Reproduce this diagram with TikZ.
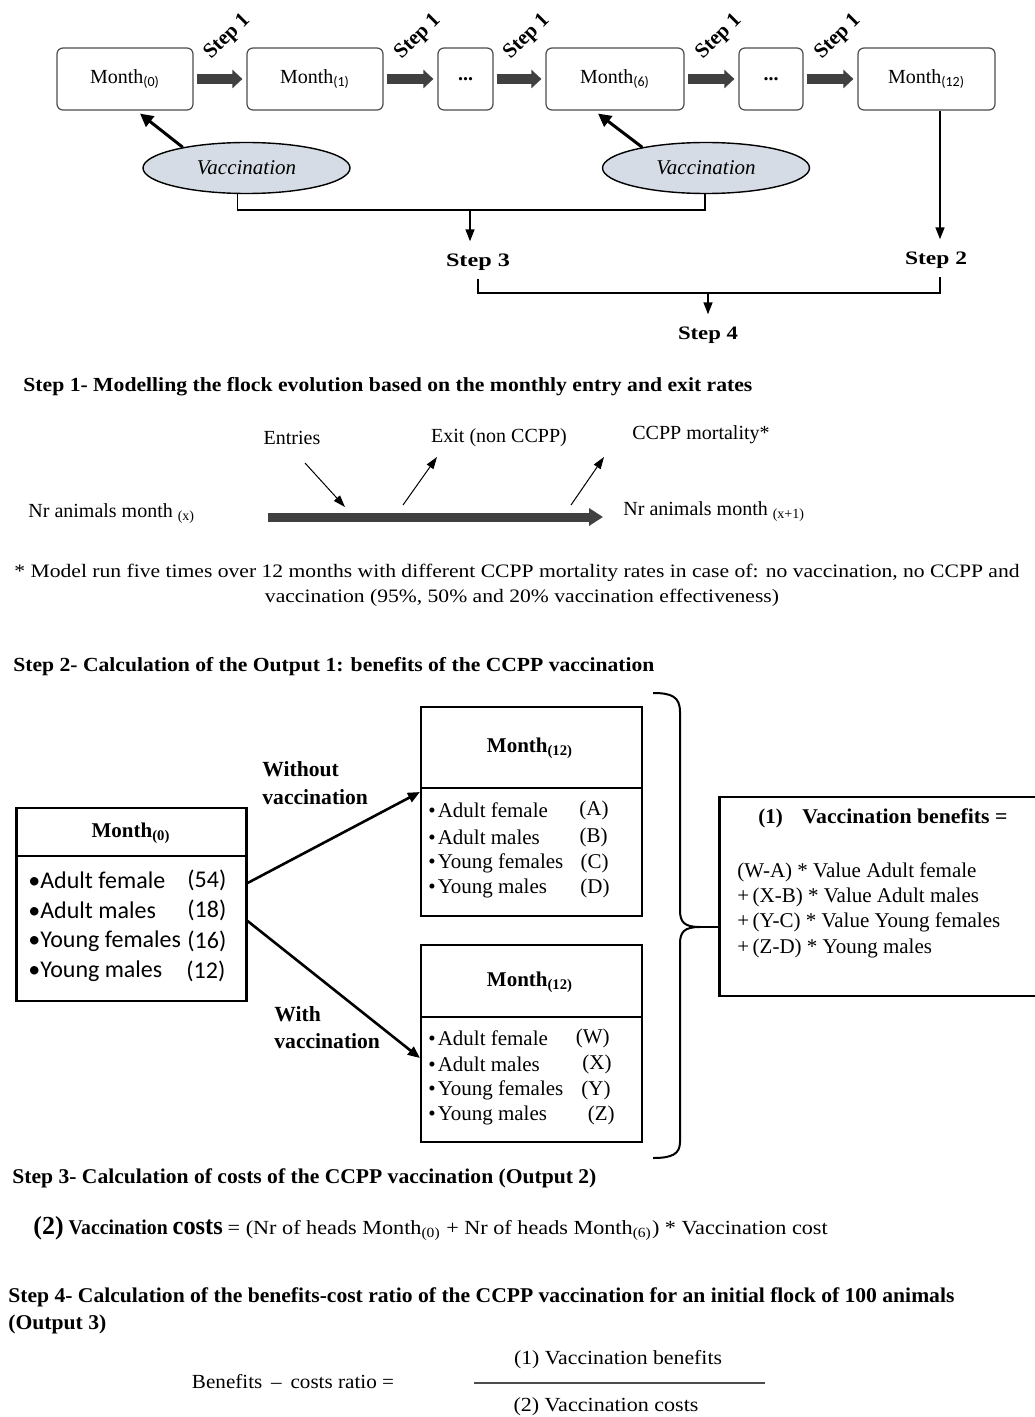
\documentclass[tikz,border=0pt]{standalone}
\usepackage{fontspec}
\setmainfont{Liberation Serif}
\newfontfamily\calib{Carlito}
\usepackage{graphicx}
\usetikzlibrary{arrows.meta,shapes.geometric}
\definecolor{vaccfill}{HTML}{D6DCE5}
\definecolor{darkarrow}{HTML}{404040}
% stretch or squeeze a piece of text horizontally to a given width
\newcommand\hfit[2]{\resizebox{#1}{\height}{#2}}
\newcommand\fs[1]{\fontsize{#1}{#1}\selectfont}
\begin{document}
\begin{tikzpicture}[x=0.5pt,y=-0.5pt,
  monthbox/.style={draw=black!70,line width=0.6pt,rounded corners=3pt,minimum height=31pt,inner sep=0pt,font=\fs{10}},
  flowarrow/.style={draw=darkarrow,line width=5pt,-{Triangle[length=5pt,width=9pt]}},
  steplabel/.style={font=\bfseries\fs{10.5},rotate=45,inner sep=0pt},
  vacc/.style={ellipse,draw,line width=0.7pt,fill=vaccfill,minimum width=103.5pt,minimum height=25.5pt,inner sep=0pt,font=\itshape\fs{10.5}},
  vaccarrow/.style={line width=1.5pt,-{Triangle[length=6.5pt,width=6.5pt]}},
  joinline/.style={line width=0.8pt},
  downarrow/.style={line width=0.8pt,-{Triangle[length=6pt,width=4.5pt]}},
  steptag/.style={font=\bfseries\fs{9.5},inner sep=0pt},
  heading/.style={anchor=west,inner sep=0pt,font=\bfseries\fs{10}},
  plain/.style={inner sep=0pt,font=\fs{10}},
  thinarrow/.style={line width=0.5pt,-{Triangle[length=6pt,width=4pt]}},
  tablebox/.style={draw,line width=1.1pt,inner sep=0pt},
  tabarrow/.style={line width=1.3pt,-{Triangle[length=6pt,width=5pt]}},
  tabhead/.style={inner sep=0pt,font=\bfseries\fs{10.5}},
  sansitem/.style={anchor=west,inner sep=0pt,font=\calib\fs{12}},
  serifitem/.style={anchor=west,inner sep=0pt,font=\fs{10.5}},
  letteritem/.style={anchor=east,inner sep=0pt,font=\fs{10.5}},
  arrowtext/.style={anchor=west,inner sep=0pt,font=\bfseries\fs{10.8}}
]
\useasboundingbox (0,0) rectangle (1034,1417);
\fill[white] (0,0) rectangle (1034,1417);

% ---------- monthly chain ----------
\node[monthbox,minimum width=68pt]   (m0)  at (125,79)   {Month\textsubscript{\calib(0)}};
\node[monthbox,minimum width=68pt]   (m1)  at (315,79)   {Month\textsubscript{\calib(1)}};
\node[monthbox,minimum width=27.5pt] (d1)  at (465.5,79) {\textbf{...}};
\node[monthbox,minimum width=69pt]   (m6)  at (615,79)   {Month\textsubscript{\calib(6)}};
\node[monthbox,minimum width=32pt]   (d2)  at (771,79)   {\textbf{...}};
\node[monthbox,minimum width=68.5pt] (m12) at (926.5,79) {Month\textsubscript{\calib(12)}};

\foreach \a/\b in {m0/m1,m1/d1,d1/m6,m6/d2,d2/m12}
  \draw[flowarrow] ([xshift=1.5pt]\a.east) -- ([xshift=-2pt]\b.west)
    node[midway,xshift=4pt,yshift=21pt,steplabel] {Step 1};

\node[vacc] (v1) at (246.5,168) {Vaccination};
\node[vacc] (v2) at (706,168)   {Vaccination};
\draw[vaccarrow] (v1.162) -- ([xshift=7.5pt,yshift=-1.5pt]m0.south);
\draw[vaccarrow] (v2.162) -- ([xshift=-8.5pt,yshift=-1.5pt]m6.south);

% ---------- joins to the outputs ----------
\node[steptag] (s3) at (478,262) {\hfit{32pt}{Step 3}};
\node[steptag] (s2) at (936,260) {\hfit{31pt}{Step 2}};
\node[steptag] (s4) at (708,335) {\hfit{30pt}{Step 4}};

\coordinate (j1) at (470,210);
\draw[joinline] ([xshift=-4.5pt]v1.south) |- (j1) -| ([xshift=-0.5pt]v2.south);
\draw[downarrow,shorten >=6pt] (j1) -- (j1 |- s3.north);

\coordinate (t12) at ([xshift=6.75pt]m12.south);
\draw[downarrow,shorten >=6pt] (t12) -- (t12 |- s2.north);

\coordinate (j2) at (708,293);
\draw[joinline] ([yshift=-4pt]s3.south) |- (j2) -| ([xshift=2pt,yshift=-4pt]s2.south);
\draw[downarrow,shorten >=6pt] (j2) -- (j2 |- s4.north);

% ---------- step 1 ----------
\node[heading] (h1) at (23,387) {\hfit{364.5pt}{Step 1- Modelling the flock evolution based on the monthly entry and exit rates}};
\node[plain] (ent)  at (292,438) {Entries};
\node[plain] (ext)  at (499,438) {Exit (non CCPP)};
\node[plain] (mort) at (701,435) {CCPP mortality*};
\node[plain,anchor=west] (nx)  at (28,514)  {Nr animals month \textsubscript{(x)}};
\node[plain,anchor=west] (nx1) at (623,512) {Nr animals month \textsubscript{(x+1)}};

\coordinate (barL) at (268,517);
\coordinate (barR) at (603,517);
\draw[draw=darkarrow,line width=4.5pt,-{Triangle[length=7pt,width=8.5pt]}] (barL) -- (barR);

\coordinate (entA) at (305,463); \coordinate (entB) at (345,507);
\coordinate (exA)  at (403,505); \coordinate (exB)  at (437,457);
\coordinate (moA)  at (571,505); \coordinate (moB)  at (604,457);
\draw[thinarrow] (entA) -- (entB);
\draw[thinarrow] (exA) -- (exB);
\draw[thinarrow] (moA) -- (moB);

\node[plain,font=\fs{9.5}] (fn1) at (517,573) {\hfit{502.5pt}{* Model run five times over 12 months with different CCPP mortality rates in case of: no vaccination, no CCPP and}};
\node[plain,font=\fs{9.5}] (fn2) at (522,598) {\hfit{257pt}{vaccination (95\%, 50\% and 20\% vaccination effectiveness)}};

% ---------- step 2 ----------
\node[heading] (h2) at (13,667) {\hfit{320.5pt}{Step 2- Calculation of the Output 1: benefits of the CCPP vaccination}};

\node[tablebox,minimum width=115pt,minimum height=96.5pt] (lb) at (131.5,904.5) {};
\coordinate (lbd) at (0,856);
\draw[line width=1.1pt] (lb.west |- lbd) -- (lb.east |- lbd);
\node[tabhead] (lbh) at (131,833) {Month\textsubscript{(0)}};
\node[sansitem] (la1) at (28,880) {•Adult female};
\node[sansitem] (la2) at (28,910) {•Adult males};
\node[sansitem] (la3) at (28,941) {•Young females};
\node[sansitem] (la4) at (28,971) {•Young males};
\node[sansitem] (ln1) at (187,880) {(54)};
\node[sansitem] (ln2) at (187,910) {(18)};
\node[sansitem] (ln3) at (187,941) {(16)};
\node[sansitem] (ln4) at (186,971) {(12)};

\node[tablebox,minimum width=110.5pt,minimum height=104.5pt] (tb) at (531.5,811.5) {};
\coordinate (tbd) at (0,788);
\draw[line width=1.1pt] (tb.west |- tbd) -- (tb.east |- tbd);
\node[tabhead] (tbh) at (530,748) {Month\textsubscript{(12)}};
\node[serifitem] (ta1) at (428,810) {•\hspace{1pt}Adult female};
\node[serifitem] (ta2) at (428,837) {•\hspace{1pt}Adult males};
\node[serifitem] (ta3) at (428,863) {•\hspace{1pt}Young females};
\node[serifitem] (ta4) at (428,888) {•\hspace{1pt}Young males};
\node[letteritem] (tl1) at (609,810) {(A)};
\node[letteritem] (tl2) at (608,837) {(B)};
\node[letteritem] (tl3) at (609,863) {(C)};
\node[letteritem] (tl4) at (610,888) {(D)};

\node[tablebox,minimum width=110.5pt,minimum height=98.5pt] (bb) at (531.5,1043.5) {};
\coordinate (bbd) at (0,1017);
\draw[line width=1.1pt] (bb.west |- bbd) -- (bb.east |- bbd);
\node[tabhead] (bbh) at (530,982) {Month\textsubscript{(12)}};
\node[serifitem] (ba1) at (428,1038) {•\hspace{1pt}Adult female};
\node[serifitem] (ba2) at (428,1064) {•\hspace{1pt}Adult males};
\node[serifitem] (ba3) at (428,1090) {•\hspace{1pt}Young females};
\node[serifitem] (ba4) at (428,1115) {•\hspace{1pt}Young males};
\node[letteritem] (bl1) at (610,1038) {(W)};
\node[letteritem] (bl2) at (612,1064) {(X)};
\node[letteritem] (bl3) at (611,1090) {(Y)};
\node[letteritem] (bl4) at (615,1115) {(Z)};

\draw[tabarrow] ([yshift=10.75pt]lb.east) -- ([yshift=9.75pt]tb.west);
\draw[tabarrow] ([yshift=-8.25pt]lb.east) -- ([yshift=-7.25pt]bb.west);
\node[arrowtext] (wo1) at (262,769)  {Without};
\node[arrowtext] (wo2) at (262,797)  {vaccination};
\node[arrowtext] (wi1) at (274,1014) {With};
\node[arrowtext] (wi2) at (274,1041) {vaccination};

% brace gathering both scenarios
\draw[line width=1pt] (653,693) .. controls (672,693) and (680,697) .. (680,712)
  -- (680,910) .. controls (680,922) and (684,927) .. (700,927)
  .. controls (684,927) and (680,932) .. (680,944)
  -- (680,1142) .. controls (680,1154) and (672,1158) .. (653,1158);
\coordinate (btip) at (700,927);

\node[tablebox,minimum width=163pt,minimum height=99.5pt] (rb) at (882.5,896.5) {};
\draw[line width=1pt] (btip) -- (rb.west |- btip);
\node[anchor=west,inner sep=0pt,font=\bfseries\fs{10.5}] (rbh) at (758,818)
  {\makebox[22pt][l]{(1)}\hfit{102.5pt}{Vaccination benefits =}};
\node[serifitem] (rf1) at (737,872) {(W-A) * Value Adult female};
\node[serifitem] (rf2) at (737,897) {+\,(X-B) * Value Adult males};
\node[serifitem] (rf3) at (737,922) {+\,(Y-C) * Value Young females};
\node[serifitem] (rf4) at (737,948) {+\,(Z-D) * Young males};

% ---------- step 3 ----------
\node[heading,font=\bfseries\fs{10.5}] (h3) at (12,1178) {\hfit{292pt}{Step 3- Calculation of costs of the CCPP vaccination (Output 2)}};
\node[anchor=west,inner sep=0pt] (cost) at (33,1228)
  {{\bfseries\fs{13}(2)} {\bfseries\fs{10.5}\hfit{49.5pt}{Vaccination}} {\bfseries\fs{13}\hfit{25pt}{costs}} {\fs{10}\hfit{300pt}{= (Nr of heads Month\textsubscript{(0)} + Nr of heads Month\textsubscript{(6)}) * Vaccination cost}}};

% ---------- step 4 ----------
\node[heading,font=\bfseries\fs{10.5}] (h4a) at (8,1297) {\hfit{473pt}{Step 4- Calculation of the benefits-cost ratio of the CCPP vaccination for an initial flock of 100 animals}};
\node[heading,font=\bfseries\fs{10.5}] (h4b) at (8,1324) {\hfit{49pt}{(Output 3)}};
\node[plain] (bcr) at (293,1382) {\hfit{101pt}{Benefits \,–\, costs ratio =}};
\coordinate (fracL) at (474,1383);
\coordinate (fracR) at (765,1383);
\draw[line width=0.7pt,draw=black!70] (fracL) -- (fracR);
\node[plain] (num) at (618,1360) {\hfit{104pt}{(1) Vaccination benefits}};
\node[plain] (den) at (606,1407) {\hfit{92.5pt}{(2) Vaccination costs}};
\end{tikzpicture}
\end{document}
